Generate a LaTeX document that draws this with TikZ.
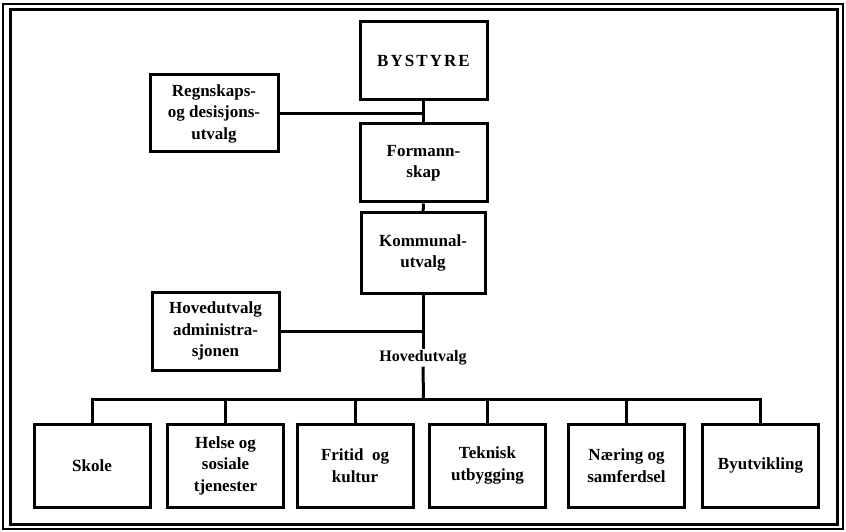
\documentclass[tikz,border=0pt]{standalone}
\usepackage{fontspec}
\setmainfont{Liberation Serif}
\newfontfamily\spacedfont[LetterSpace=12]{Liberation Serif}
\usetikzlibrary{positioning}
\tikzstyle{unit}=[draw, line width=3pt, align=center, inner sep=2pt,
  font=\bfseries\fontsize{17}{21.5}\selectfont]
\tikzstyle{topunit}=[unit, minimum width=127pt, minimum height=78pt]
\tikzstyle{subunit}=[unit, minimum width=116pt, minimum height=83pt]
\tikzstyle{link}=[line width=3pt]

\begin{document}
\begin{tikzpicture}[x=1pt, y=1pt]
  \useasboundingbox (0,0) rectangle (846,531);
  \draw[line width=1.3pt] (3,2) rectangle (843,527);
  \draw[line width=3pt] (10,7) rectangle (837,521);

  \node[topunit] (bystyre) at (423.5,470) {\spacedfont\fontsize{17}{21}\selectfont BYSTYRE};
  \node[topunit, minimum width=128pt, minimum height=77pt] (regnskap) at (214,417.5) {Regnskaps-\\og desisjons-\\utvalg};
  \node[topunit] (formann) at (423.5,368) {Formann-\\skap};
  \node[topunit, minimum width=124pt, minimum height=80pt] (kommunal) at (423,278) {Kommunal-\\utvalg};
  \node[topunit] (admin) at (215.5,200) {Hovedutvalg\\administra-\\sjonen};
  \node[font=\bfseries\fontsize{16}{21}\selectfont, inner sep=1pt] (hoved) at (423,173) {Hovedutvalg};
  \coordinate (bus) at (423.5,132);

  \node[subunit] (skole) at (92,65.5) {Skole};
  \node[subunit] (helse) at (225.5,65.5) {Helse og\\sosiale\\tjenester};
  \node[subunit] (fritid) at (355,65.5) {Fritid\ \ og\\kultur};
  \node[subunit] (teknisk) at (487.5,65.5) {Teknisk\\utbygging};
  \node[subunit] (naering) at (626.5,65.5) {Næring og\\samferdsel};
  \node[subunit] (byut) at (760.5,65.5) {Byutvikling};

  \draw[link] (bystyre) -- (formann);
  \draw[link] (regnskap.east) -- (regnskap.east -| bystyre.south);
  \draw[link] (formann) -- (kommunal);
  \draw[link] (kommunal.south) -- (hoved.north);
  \draw[link] (admin.east) -- (admin.east -| kommunal.south);
  \draw[link] (hoved.south) -- (bus);
  \foreach \u in {skole, helse, fritid, teknisk, naering, byut}
    \draw[link] (\u.north) |- (bus);
\end{tikzpicture}
\end{document}
